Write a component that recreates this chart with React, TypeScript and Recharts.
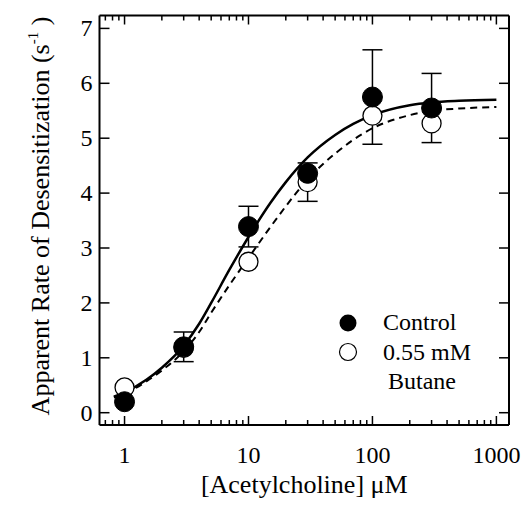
import { ComposedChart, ErrorBar, Legend, Line, Scatter, XAxis, YAxis } from 'recharts';

// measured points (µM vs s^-1)
const concentrations = [1, 3, 10, 30, 100, 300];
const controlRates = [0.2, 1.2, 3.39, 4.36, 5.75, 5.55];
const butaneRates = [0.46, 1.18, 2.75, 4.2, 5.41, 5.27];

// error bars, only where they are drawn
const controlErrConc = [3, 10, 100, 300];
const controlErrRate = [1.2, 3.39, 5.75, 5.55];
const controlErrSize = [0.27, 0.37, 0.86, 0.63];
const butaneErrConc = [30];
const butaneErrRate = [4.2];
const butaneErrSize = [0.35];

// fitted curves
const fitConc = [0.82, 1, 1.5, 2, 3, 4, 5, 7, 10, 15, 20, 30, 50, 70, 100, 200, 300, 500, 1000];
const controlFit = [0.29, 0.37, 0.6, 0.82, 1.22, 1.62, 2.0, 2.6, 3.2, 3.82, 4.2, 4.65, 5.06, 5.26, 5.42, 5.6, 5.65, 5.68, 5.7];
const butaneFit = [0.28, 0.35, 0.57, 0.77, 1.12, 1.47, 1.82, 2.32, 2.82, 3.38, 3.76, 4.25, 4.72, 4.97, 5.18, 5.42, 5.5, 5.54, 5.57];

const majorTicks = [1, 10, 100, 1000];
const xTicks = [
  0.7, 0.8, 0.9, 1, 2, 3, 4, 5, 6, 7, 8, 9, 10, 20, 30, 40, 50, 60, 70, 80, 90, 100,
  200, 300, 400, 500, 600, 700, 800, 900, 1000,
];
const yTicks = [0, 1, 2, 3, 4, 5, 6, 7];

const FONT = '"Liberation Serif", "DejaVu Serif", serif';

const zip = (xs: number[], ys: number[]) => xs.map((x, i) => ({ x, y: ys[i] }));

const controlData = zip(concentrations, controlRates);
const butaneData = zip(concentrations, butaneRates);
const controlFitData = zip(fitConc, controlFit);
const butaneFitData = zip(fitConc, butaneFit);
const controlErrData = controlErrConc.map((x, i) => ({ x, y: controlErrRate[i], err: controlErrSize[i] }));
const butaneErrData = butaneErrConc.map((x, i) => ({ x, y: butaneErrRate[i], err: butaneErrSize[i] }));

function BottomTick({ x, y, payload }: any) {
  const major = majorTicks.includes(payload.value);
  return (
    <g>
      <line x1={x} x2={x} y1={y} y2={y - (major ? 9 : 5)} stroke="#000" strokeWidth={1.5} />
      {major && (
        <text x={x} y={y + 38} textAnchor="middle" fontFamily={FONT} fontSize={24} fill="#000">
          {payload.value}
        </text>
      )}
    </g>
  );
}

function TopTick({ x, y, payload }: any) {
  const major = majorTicks.includes(payload.value);
  return <line x1={x} x2={x} y1={y} y2={y + (major ? 9 : 5)} stroke="#000" strokeWidth={1.5} />;
}

function LeftTick({ x, y, payload }: any) {
  return (
    <g>
      <line x1={x} x2={x + 10} y1={y} y2={y} stroke="#000" strokeWidth={1.5} />
      <text x={x - 7} y={y + 8} textAnchor="end" fontFamily={FONT} fontSize={24} fill="#000">
        {payload.value}
      </text>
    </g>
  );
}

function RightTick({ x, y }: any) {
  return <line x1={x} x2={x - 10} y1={y} y2={y} stroke="#000" strokeWidth={1.5} />;
}

function YLabel() {
  return (
    <text
      x={41}
      y={208}
      transform="rotate(-90 41 208)"
      textAnchor="middle"
      fontFamily={FONT}
      fontSize={26}
      fill="#000"
    >
      Apparent Rate of Desensitization (s
      <tspan fontSize={15} dy={-11}>-1</tspan>
      <tspan dy={11}> )</tspan>
    </text>
  );
}

function FilledDot({ cx, cy }: any) {
  return <circle cx={cx} cy={cy} r={10} fill="#000" stroke="#000" strokeWidth={1} />;
}

function OpenDot({ cx, cy }: any) {
  return <circle cx={cx} cy={cy} r={9.5} fill="#fff" stroke="#000" strokeWidth={1.3} />;
}

function NoDot() {
  return <g />;
}

function LegendBox() {
  return (
    <svg width={170} height={92} style={{ display: 'block' }}>
      <circle cx={13} cy={18} r={8.5} fill="#000" />
      <text x={48} y={25} fontFamily={FONT} fontSize={24} fill="#000">Control</text>
      <circle cx={13} cy={47} r={8.5} fill="#fff" stroke="#000" strokeWidth={1.2} />
      <text x={48} y={55} fontFamily={FONT} fontSize={24} fill="#000">0.55 mM</text>
      <text x={53} y={84} fontFamily={FONT} fontSize={24} fill="#000">Butane</text>
    </svg>
  );
}

const axisLine = { stroke: '#000', strokeWidth: 2 };

export default function App() {
  return (
    <div style={{ width: 513, height: 490 }}>
      <ComposedChart width={513} height={490} margin={{ top: 0, right: 0, bottom: 0, left: 0 }}>
        <XAxis
          dataKey="x"
          type="number"
          scale="log"
          domain={[0.628, 1264]}
          allowDataOverflow
          ticks={xTicks}
          interval={0}
          height={73}
          tickSize={0}
          tickMargin={0}
          tickLine={false}
          axisLine={axisLine}
          tick={<BottomTick />}
          label={{
            value: '[Acetylcholine] \u03bcM',
            position: 'insideBottom',
            offset: 5,
            fontFamily: FONT,
            fontSize: 26,
            fill: '#000',
          }}
        />
        <XAxis
          xAxisId="top"
          orientation="top"
          dataKey="x"
          type="number"
          scale="log"
          domain={[0.628, 1264]}
          allowDataOverflow
          ticks={xTicks}
          interval={0}
          height={7.5}
          tickSize={0}
          tickMargin={0}
          tickLine={false}
          axisLine={axisLine}
          tick={<TopTick />}
        />
        <YAxis
          dataKey="y"
          type="number"
          domain={[-0.224, 7.235]}
          allowDataOverflow
          ticks={yTicks}
          interval={0}
          width={91.5}
          tickSize={0}
          tickMargin={0}
          tickLine={false}
          axisLine={axisLine}
          tick={<LeftTick />}
          label={<YLabel />}
        />
        <YAxis
          yAxisId="right"
          orientation="right"
          dataKey="y"
          type="number"
          domain={[-0.224, 7.235]}
          allowDataOverflow
          ticks={yTicks}
          interval={0}
          width={12}
          tickSize={0}
          tickMargin={0}
          tickLine={false}
          axisLine={axisLine}
          tick={<RightTick />}
        />
        <Scatter data={butaneErrData} shape={<NoDot />} isAnimationActive={false}>
          <ErrorBar dataKey="err" direction="y" width={10} stroke="#000" strokeWidth={1.5} isAnimationActive={false} />
        </Scatter>
        <Scatter data={butaneData} shape={<OpenDot />} isAnimationActive={false} />
        <Line
          data={controlFitData}
          dataKey="y"
          type="monotone"
          stroke="#000"
          strokeWidth={2.5}
          dot={false}
          activeDot={false}
          isAnimationActive={false}
        />
        <Line
          data={butaneFitData}
          dataKey="y"
          type="monotone"
          stroke="#000"
          strokeWidth={2}
          strokeDasharray="7 5"
          dot={false}
          activeDot={false}
          isAnimationActive={false}
        />
        <Scatter data={controlErrData} shape={<NoDot />} isAnimationActive={false}>
          <ErrorBar dataKey="err" direction="y" width={10} stroke="#000" strokeWidth={1.5} isAnimationActive={false} />
        </Scatter>
        <Scatter data={controlData} shape={<FilledDot />} isAnimationActive={false} />
        <Legend
          layout="vertical"
          align="center"
          verticalAlign="middle"
          content={<LegendBox />}
          wrapperStyle={{ position: 'absolute', left: 327, top: 297, width: 170 }}
        />
      </ComposedChart>
    </div>
  );
}
